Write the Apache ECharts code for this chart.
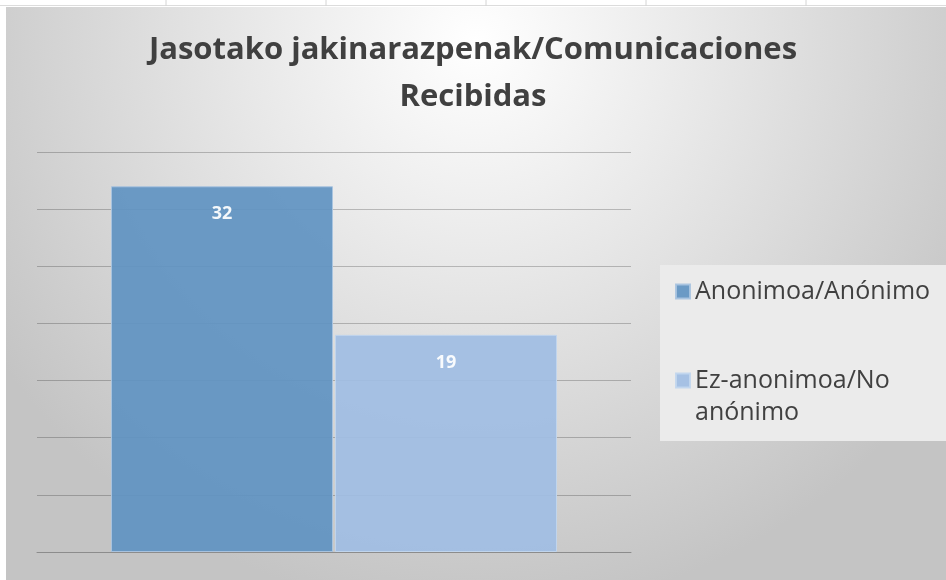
<!DOCTYPE html>
<html>
<head>
<meta charset="utf-8">
<style>
html,body{margin:0;padding:0;background:#ffffff;}
#chart{width:946px;height:580px;}
</style>
<script src="https://cdn.jsdelivr.net/npm/echarts@6/dist/echarts.min.js"></script>
</head>
<body>
<div id="chart"></div>
<script>
const titleText = 'Jasotako jakinarazpenak/Comunicaciones\nRecibidas';
const categories = ['Comunicaciones'];
const seriesNames = ['Anonimoa/Anónimo', 'Ez-anonimoa/No anónimo'];
const anonimoValues = [32];
const noAnonimoValues = [19];
const yTicks = [0, 5, 10, 15, 20, 25, 30, 35];

const chart = echarts.init(document.getElementById('chart'));
const FONT = '"Open Sans", sans-serif';

const topTicks = [166, 326, 486, 646, 806].map(x => ({
  type: 'line', z: -5, silent: true,
  shape: {x1: x, y1: 0, x2: x, y2: 6},
  style: {stroke: '#d4d4d4', lineWidth: 1}
}));

chart.setOption({
  backgroundColor: '#ffffff',
  animation: false,
  title: {
    text: titleText,
    left: 'center',
    top: 22,
    textStyle: {fontFamily: FONT, fontSize: 31, fontWeight: 'bold', color: '#404040', lineHeight: 47}
  },
  graphic: [
    {type: 'rect', z: -10, silent: true,
     shape: {x: 6, y: 7, width: 940, height: 573},
     style: {fill: {type: 'radial', x: 0.5, y: 0.06, r: 1.0,
       colorStops: [{offset: 0, color: '#ffffff'}, {offset: 0.4, color: '#e8e8e8'}, {offset: 0.85, color: '#cdcdcd'}, {offset: 1, color: '#c4c4c4'}]}}},
    {type: 'line', z: -5, silent: true, shape: {x1: 0, y1: 5.5, x2: 946, y2: 5.5}, style: {stroke: '#dcdcdc', lineWidth: 1}}
  ].concat(topTicks),
  legend: {
    orient: 'vertical',
    left: 660,
    top: 265,
    width: 286,
    padding: [14, 40, 16, 15],
    backgroundColor: '#ebebeb',
    itemWidth: 14,
    itemHeight: 14,
    itemGap: 32,
    icon: 'rect',
    data: seriesNames,
    formatter: function (name) {
      return name === seriesNames[1] ? '{m|Ez-anonimoa/No\nanónimo}' : '{s|' + name + '}';
    },
    textStyle: {
      fontFamily: FONT, fontSize: 25, color: '#404040',
      rich: {
        s: {fontFamily: FONT, fontSize: 25, color: '#404040', lineHeight: 32},
        m: {fontFamily: FONT, fontSize: 25, color: '#404040', lineHeight: 32, padding: [32, 0, 0, 0]}
      }
    }
  },
  grid: {left: 37, right: 315, top: 152, bottom: 28},
  xAxis: {
    type: 'category',
    data: categories,
    axisLine: {show: true, lineStyle: {color: '#8c8c8c', width: 1}},
    axisTick: {show: false},
    axisLabel: {show: false}
  },
  yAxis: {
    type: 'value',
    min: yTicks[0],
    max: yTicks[yTicks.length - 1],
    interval: 5,
    axisLabel: {show: false},
    axisLine: {show: false},
    axisTick: {show: false},
    splitLine: {lineStyle: {color: 'rgba(0,0,0,0.22)', width: 1}}
  },
  series: [
    {
      name: seriesNames[0], type: 'bar', data: anonimoValues,
      barWidth: 222, barGap: '0.9%',
      itemStyle: {color: '#6193c2', borderColor: '#a9c4e0', borderWidth: 1, opacity: 0.93},
      label: {show: true, position: 'insideTop', distance: 19, color: '#ffffff', fontFamily: FONT, fontWeight: 'bold', fontSize: 18}
    },
    {
      name: seriesNames[1], type: 'bar', data: noAnonimoValues,
      barWidth: 222,
      itemStyle: {color: '#a0bde3', borderColor: '#c2d6ee', borderWidth: 1, opacity: 0.93},
      label: {show: true, position: 'insideTop', distance: 19, color: '#ffffff', fontFamily: FONT, fontWeight: 'bold', fontSize: 18}
    }
  ]
});
</script>
</body>
</html>
